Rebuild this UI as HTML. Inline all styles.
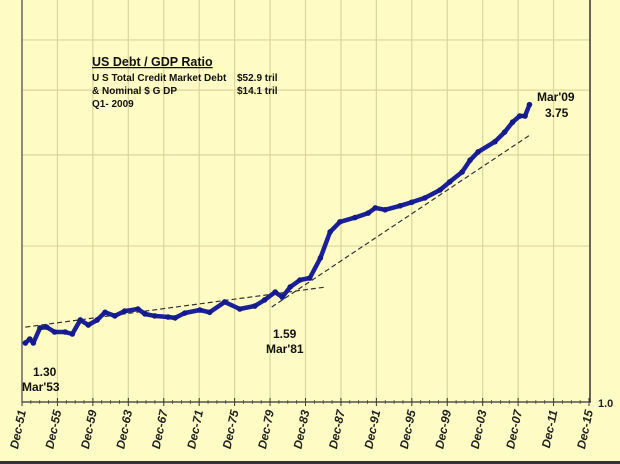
<!DOCTYPE html>
<html><head><meta charset="utf-8"><style>
body{margin:0;background:#fefcc4;}
svg{display:block;font-family:"Liberation Sans",Arial,sans-serif;}
</style></head><body>
<svg id="chart" width="620" height="464" viewBox="0 0 620 464">
<rect x="0" y="0" width="620" height="464" fill="#fefcc4"/>
<g id="grid"></g>
<g id="axes"></g>
<g id="trend"></g>
<g id="series"></g>
<g font-size="10" font-weight="bold" fill="#111">
<text x="92" y="66" font-size="12.5" font-weight="bold" text-decoration="underline">US Debt / GDP Ratio</text>
<text x="92" y="81">U S Total Credit Market Debt</text>
<text x="237" y="81">$52.9 tril</text>
<text x="92" y="94">&amp; Nominal $ G DP</text>
<text x="237" y="94">$14.1 tril</text>
<text x="92" y="107">Q1- 2009</text>
</g>
<g font-size="12" font-weight="bold" fill="#111">
<text x="33" y="376">1.30</text>
<text x="22" y="391">Mar'53</text>
<text x="273" y="338">1.59</text>
<text x="266" y="353">Mar'81</text>
<text x="537" y="101">Mar'09</text>
<text x="545" y="117">3.75</text>
</g>
</svg>
<script>
const years = [1952.3,1952.8,1953.2,1953.95,1954.7,1955.6,1956.8,1957.6,1958.5,1959.4,1960.4,1961.3,1962.4,1963.5,1965.0,1965.8,1966.9,1968.4,1969.2,1970.3,1972.0,1973.1,1974.8,1976.5,1978.2,1979.3,1980.5,1981.3,1982.2,1983.3,1984.4,1985.6,1986.7,1987.8,1989.5,1991.0,1991.8,1992.9,1994.6,1995.9,1997.4,1999.1,2000.2,2001.6,2002.5,2003.4,2005.3,2006.4,2007.3,2008.1,2008.7,2009.2];
const ratios = [1.30,1.323,1.30,1.39,1.395,1.365,1.365,1.353,1.44,1.408,1.44,1.49,1.466,1.498,1.512,1.479,1.466,1.459,1.453,1.485,1.505,1.49,1.56,1.512,1.532,1.574,1.63,1.594,1.668,1.72,1.735,1.897,2.13,2.227,2.27,2.316,2.37,2.35,2.392,2.43,2.477,2.566,2.66,2.78,2.93,3.04,3.18,3.32,3.47,3.565,3.565,3.75];
const trend1Years = [1952.3,1986.3];
const trend1Values = [1.395,1.668];
const trend2Years = [1980.1,2009.3];
const trend2Values = [1.525,3.28];
const tickYears = [1951,1955,1959,1963,1967,1971,1975,1979,1983,1987,1991,1995,1999,2003,2007,2011,2015];
const tickLabels = ["Dec-51","Dec-55","Dec-59","Dec-63","Dec-67","Dec-71","Dec-75","Dec-79","Dec-83","Dec-87","Dec-91","Dec-95","Dec-99","Dec-03","Dec-07","Dec-11","Dec-15"];
const gridValues = [2,3,4,5];

const NS="http://www.w3.org/2000/svg";
const X0=22,X1=589,Y1=402,PPD=518;
const yr0=1951.92, yr1=2015.92;
function xs(y){return X0+(y-yr0)/(yr1-yr0)*(X1-X0);}
function ys(v){return Y1-Math.log10(v)*PPD;}
function mk(tag,attrs,parent){const e=document.createElementNS(NS,tag);for(const k in attrs)e.setAttribute(k,attrs[k]);parent.appendChild(e);return e;}
const grid=document.getElementById('grid'),axes=document.getElementById('axes'),trend=document.getElementById('trend'),series=document.getElementById('series');
gridValues.forEach(v=>{const l=mk('line',{x1:X0,x2:X1,y1:ys(v),y2:ys(v),stroke:'#ddd49c','stroke-width':1.2},grid);

});
tickYears.forEach((t,i)=>{const x=xs(t+0.92);
if(i>0&&i<tickYears.length-1){const l=mk('line',{x1:x,x2:x,y1:0,y2:Y1,stroke:'#ddd49c','stroke-width':1.2},grid);

}
const tk=mk('line',{x1:x,x2:x,y1:Y1-4,y2:Y1+4,stroke:'#333','stroke-width':1},axes);


const tx=mk('text',{x:0,y:0,'font-size':12,'font-weight':'bold','font-style':'italic',fill:'#222','text-anchor':'end',transform:`translate(${x+4},${Y1+9}) rotate(-78)`},axes);
tx.textContent=tickLabels[i];

});
for(let y=1952;y<2016;y++){const x=xs(y+0.92);const m=mk('line',{x1:x,x2:x,y1:Y1-2,y2:Y1+2,stroke:'#555','stroke-width':0.8},axes);

}
const xa=mk('line',{x1:X0,x2:X1+2,y1:Y1,y2:Y1,stroke:'#333','stroke-width':1.2},axes);


const la=mk('line',{x1:X0,x2:X0,y1:0,y2:Y1,stroke:'#444','stroke-width':1.2},axes);


const ra=mk('line',{x1:X1+1,x2:X1+1,y1:0,y2:Y1,stroke:'#333','stroke-width':1.5},axes);


const rl=mk('text',{x:598,y:Y1+5,'font-size':11,'font-weight':'bold',fill:'#222'},axes);rl.textContent='1.0';


const bb=mk('rect',{x:0,y:461,width:620,height:3,fill:'#333'},axes);


[[trend1Years,trend1Values,'trend-line-1'],[trend2Years,trend2Values,'trend-line-2']].forEach(([ty,tv,n])=>{
const l=mk('line',{x1:xs(ty[0]),y1:ys(tv[0]),x2:xs(ty[1]),y2:ys(tv[1]),stroke:'#333','stroke-width':1.2,'stroke-dasharray':'5,3'},trend);

});
const pts=years.map((y,i)=>xs(y).toFixed(1)+','+ys(ratios[i]).toFixed(1)).join(' ');
const pl=mk('polyline',{points:pts,fill:'none',stroke:'#1a1f9a','stroke-width':4.5,'stroke-linejoin':'round','stroke-linecap':'round'},series);


years.forEach((y,i)=>{const c=mk('circle',{cx:xs(y),cy:ys(ratios[i]),r:2.8,fill:'#141a8a'},series);

});
</script>
</body></html>
